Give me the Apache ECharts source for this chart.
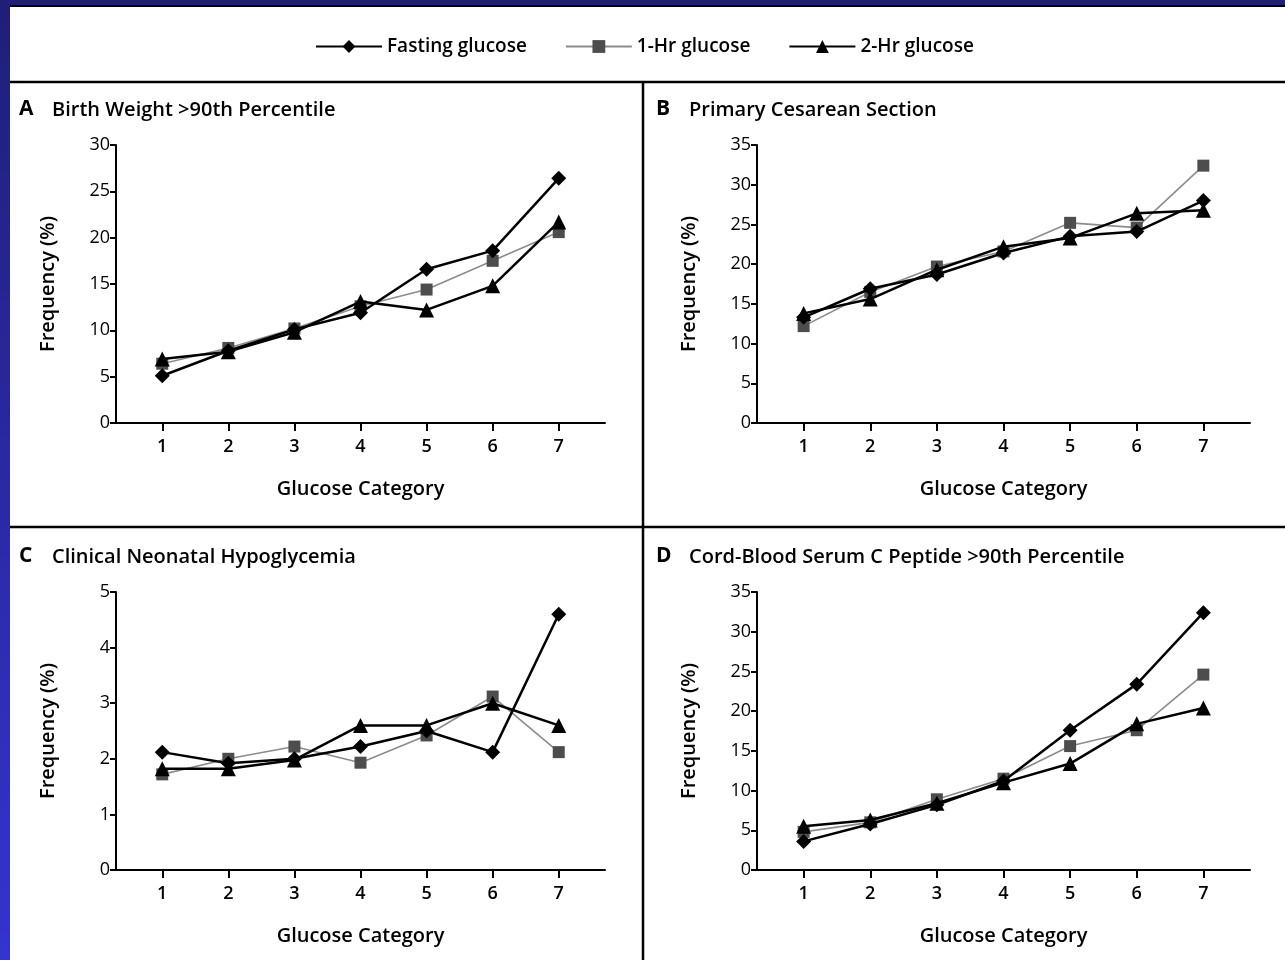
<!DOCTYPE html>
<html>
<head>
<meta charset="utf-8">
<script src="https://cdn.jsdelivr.net/npm/echarts@6/dist/echarts.min.js"></script>
<style>
  html, body { margin: 0; padding: 0; background: #fff; }
  #main { width: 1285px; height: 960px; }
</style>
</head>
<body>
<div id="main"></div>
<script type="text/javascript">
    // glucose categories on the x axis
    var categories = [1, 2, 3, 4, 5, 6, 7];
    var seriesNames = ['Fasting glucose', '1-Hr glucose', '2-Hr glucose'];

    // A  Birth weight >90th percentile
    var aFasting = [5.1, 7.8, 10.1, 11.9, 16.6, 18.6, 26.4];
    var aHr1     = [6.4, 8.1, 10.2, 12.6, 14.4, 17.5, 20.6];
    var aHr2     = [6.9, 7.7, 9.8, 13.1, 12.2, 14.8, 21.7];
    // B  Primary cesarean section
    var bFasting = [13.3, 16.9, 18.7, 21.4, 23.5, 24.1, 28.0];
    var bHr1     = [12.2, 16.5, 19.7, 21.6, 25.2, 24.6, 32.4];
    var bHr2     = [13.8, 15.6, 19.3, 22.2, 23.3, 26.4, 26.8];
    // C  Clinical neonatal hypoglycemia
    var cFasting = [2.12, 1.92, 2.0, 2.22, 2.5, 2.12, 4.6];
    var cHr1     = [1.72, 2.0, 2.22, 1.93, 2.42, 3.12, 2.12];
    var cHr2     = [1.82, 1.82, 1.98, 2.6, 2.6, 3.0, 2.6];
    // D  Cord-blood serum C peptide >90th percentile
    var dFasting = [3.6, 5.8, 8.2, 11.2, 17.6, 23.4, 32.4];
    var dHr1     = [4.8, 6.0, 8.9, 11.5, 15.6, 17.6, 24.6];
    var dHr2     = [5.5, 6.3, 8.4, 11.0, 13.4, 18.4, 20.4];

    var font = 'Open Sans';

    var panels = [
        {letter: 'A', title: 'Birth Weight >90th Percentile', left: 116, top: 145, width: 489, max: 30, interval: 5, data: [aFasting, aHr1, aHr2]},
        {letter: 'B', title: 'Primary Cesarean Section', left: 757, top: 145, width: 493, max: 35, interval: 5, data: [bFasting, bHr1, bHr2]},
        {letter: 'C', title: 'Clinical Neonatal Hypoglycemia', left: 116, top: 592, width: 489, max: 5, interval: 1, data: [cFasting, cHr1, cHr2]},
        {letter: 'D', title: 'Cord-Blood Serum C Peptide >90th Percentile', left: 757, top: 592, width: 493, max: 35, interval: 5, data: [dFasting, dHr1, dHr2]}
    ];

    var styles = [
        {symbol: 'diamond', symbolSize: 15, itemStyle: {color: '#000'}, lineStyle: {color: '#000', width: 2.5}},
        {symbol: 'rect', symbolSize: 12, itemStyle: {color: '#4d4d4d'}, lineStyle: {color: '#8c8c8c', width: 1.6}},
        {symbol: 'triangle', symbolSize: 15, itemStyle: {color: '#000'}, lineStyle: {color: '#000', width: 2.5}}
    ];

    var grid = [], xAxis = [], yAxis = [], series = [], title = [];
    panels.forEach(function (p, i) {
        grid.push({left: p.left, top: p.top, width: p.width, height: 278});
        xAxis.push({
            type: 'value', gridIndex: i, min: 0.3, max: 7.7,
            name: 'Glucose Category', nameLocation: 'middle', nameGap: 56,
            nameTextStyle: {fontFamily: font, fontSize: 20, fontWeight: 600, color: '#000'},
            axisLine: {lineStyle: {color: '#000', width: 2}},
            axisTick: {customValues: categories, length: 8, lineStyle: {color: '#000', width: 2}},
            axisLabel: {customValues: categories, margin: 15, fontFamily: font, fontSize: 18, fontWeight: 600, color: '#000'},
            splitLine: {show: false}
        });
        yAxis.push({
            type: 'value', gridIndex: i, min: 0, max: p.max, interval: p.interval,
            name: 'Frequency (%)', nameLocation: 'middle', nameGap: 58, nameRotate: 90,
            nameTextStyle: {fontFamily: font, fontSize: 20, fontWeight: 600, color: '#000'},
            axisLine: {show: true, lineStyle: {color: '#000', width: 2}},
            axisTick: {show: true, length: 6, lineStyle: {color: '#000', width: 2}},
            axisLabel: {margin: 6, fontFamily: font, fontSize: 18, fontWeight: 500, color: '#000'},
            splitLine: {show: false}
        });
        p.data.forEach(function (vals, k) {
            series.push({
                name: seriesNames[k], type: 'line', xAxisIndex: i, yAxisIndex: i,
                data: categories.map(function (c, j) { return [c, vals[j]]; }),
                symbol: styles[k].symbol, symbolSize: styles[k].symbolSize,
                itemStyle: styles[k].itemStyle, lineStyle: styles[k].lineStyle,
                z: k === 1 ? 2 : 3
            });
        });
        var ty = i < 2 ? 95 : 542;
        var tx = i % 2 === 0 ? 14 : 651;
        title.push({text: p.letter, left: tx, top: ty - 1, textStyle: {fontFamily: font, fontSize: 21, fontWeight: 'bold', color: '#000'}});
        title.push({text: p.title, left: tx + 33, top: ty, textStyle: {fontFamily: font, fontSize: 20, fontWeight: 600, color: '#000'}});
    });

    var myChart = echarts.init(document.getElementById('main'));
    var option = {
        animation: false,
        backgroundColor: '#fff',
        title: title,
        legend: {
            left: 310, top: 32, itemWidth: 66, itemHeight: 16, itemGap: 38,
            data: seriesNames,
            textStyle: {fontFamily: font, fontSize: 19, fontWeight: 600, color: '#000'}
        },
        grid: grid,
        xAxis: xAxis,
        yAxis: yAxis,
        series: series,
        graphic: [
            // blue slide frame
            {type: 'rect', left: 0, top: 0, shape: {width: 10, height: 960}, silent: true,
             style: {fill: new echarts.graphic.LinearGradient(0, 0, 0, 1, [{offset: 0, color: '#1f1f78'}, {offset: 1, color: '#3434cf'}])}},
            {type: 'rect', left: 0, top: 0, shape: {width: 1285, height: 5}, silent: true, style: {fill: '#1f1f78'}},
            // panel dividers
            {type: 'line', shape: {x1: 10, y1: 6, x2: 1285, y2: 6}, style: {stroke: '#000', lineWidth: 2}, silent: true},
            {type: 'line', shape: {x1: 10, y1: 82, x2: 1285, y2: 82}, style: {stroke: '#000', lineWidth: 2.5}, silent: true},
            {type: 'line', shape: {x1: 10, y1: 527, x2: 1285, y2: 527}, style: {stroke: '#000', lineWidth: 2.5}, silent: true},
            {type: 'line', shape: {x1: 643, y1: 82, x2: 643, y2: 960}, style: {stroke: '#000', lineWidth: 2.5}, silent: true}
        ]
    };
    myChart.setOption(option);
</script>
</body>
</html>
